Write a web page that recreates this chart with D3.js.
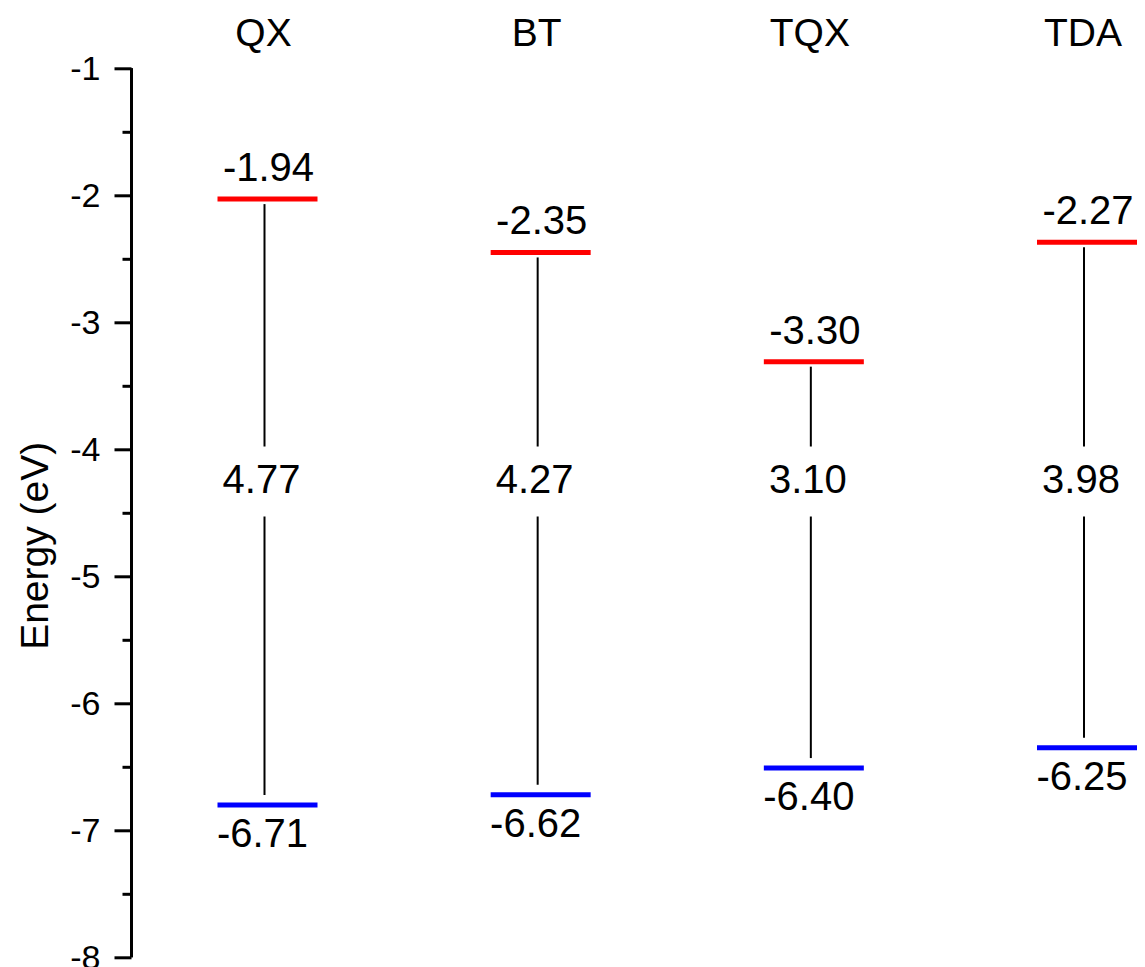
<!DOCTYPE html>
<html>
<head>
<meta charset="utf-8">
<script src="https://cdn.jsdelivr.net/npm/d3@7"></script>
<style>
	body { margin: 0; background: #fff; }
	svg { display: block; }
	text { font-family: "Liberation Sans", Arial, sans-serif; fill: #000; }
</style>
</head>
<body>
<svg id="chart" width="1145" height="967"></svg>
<script>
var categories = ["QX", "BT", "TQX", "TDA"];
var lumo = [-2.03, -2.45, -3.31, -2.37];
var homo = [-6.80, -6.72, -6.51, -6.35];
var lumoLabels = ["-1.94", "-2.35", "-3.30", "-2.27"];
var homoLabels = ["-6.71", "-6.62", "-6.40", "-6.25"];
var gapLabels = ["4.77", "4.27", "3.10", "3.98"];
var majorTicks = [-1, -2, -3, -4, -5, -6, -7, -8];

var svg = d3.select("#chart");

var y = d3.scaleLinear().domain([-1, -8]).range([68.3, 957.3]);
var x = d3.scalePoint().domain(categories).range([267.5, 1087]);

var levelW = 100;
var gapAt = -4.23;

// y axis: major ticks every 1, minor every 0.5
var minorTicks = d3.range(-1.5, -8, -1);
var axisMajor = d3.axisLeft(y).tickValues(majorTicks).tickSize(17).tickPadding(14)
	.tickFormat(function (d) { return String(d); });
var axisMinor = d3.axisLeft(y).tickValues(minorTicks).tickSize(9).tickFormat("");

var gAxis = svg.append("g").attr("transform", "translate(131.5,0)");
gAxis.call(axisMajor);
gAxis.append("g").call(axisMinor);
gAxis.selectAll("path.domain").attr("stroke", "#000").attr("stroke-width", 3);
gAxis.selectAll(".tick line").attr("stroke", "#000").attr("stroke-width", 3);
gAxis.selectAll(".tick text").attr("font-size", 34).attr("fill", "#000")
	.style("font-family", '"Liberation Sans", Arial, sans-serif');
// keep the domain flat at the ends (no outer ticks)
gAxis.selectAll("path.domain").attr("d", "M0," + y(-1) + "V" + y(-8));
gAxis.select("g").selectAll("path.domain").remove();

svg.append("text")
	.attr("transform", "translate(48," + y(-4.76) + ") rotate(-90)")
	.attr("text-anchor", "middle")
	.attr("font-size", 39)
	.text("Energy (eV)");

// category titles
svg.selectAll("text.title")
	.data(categories)
	.enter().append("text")
	.attr("class", "title")
	.attr("x", function (d) { return x(d) - 4; })
	.attr("y", 46)
	.attr("text-anchor", "middle")
	.attr("font-size", 39)
	.text(function (d) { return d; });

var groups = svg.selectAll("g.mol")
	.data(categories)
	.enter().append("g")
	.attr("class", "mol");

// connector above gap label
groups.append("line")
	.attr("x1", function (d) { return x(d) - 3; })
	.attr("x2", function (d) { return x(d) - 3; })
	.attr("y1", function (d, i) { return y(lumo[i]) + 5; })
	.attr("y2", y(gapAt) - 32)
	.attr("stroke", "#000")
	.attr("stroke-width", 2);

// connector below gap label
groups.append("line")
	.attr("x1", function (d) { return x(d) - 3; })
	.attr("x2", function (d) { return x(d) - 3; })
	.attr("y1", y(gapAt) + 38)
	.attr("y2", function (d, i) { return y(homo[i]) - 10; })
	.attr("stroke", "#000")
	.attr("stroke-width", 2);

// LUMO levels
groups.append("line")
	.attr("x1", function (d) { return x(d) - levelW / 2; })
	.attr("x2", function (d) { return x(d) + levelW / 2; })
	.attr("y1", function (d, i) { return y(lumo[i]); })
	.attr("y2", function (d, i) { return y(lumo[i]); })
	.attr("stroke", "#ff0000")
	.attr("stroke-width", 5);

// HOMO levels
groups.append("line")
	.attr("x1", function (d) { return x(d) - levelW / 2; })
	.attr("x2", function (d) { return x(d) + levelW / 2; })
	.attr("y1", function (d, i) { return y(homo[i]); })
	.attr("y2", function (d, i) { return y(homo[i]); })
	.attr("stroke", "#0000ff")
	.attr("stroke-width", 5);

groups.append("text")
	.attr("x", function (d) { return x(d) + 1; })
	.attr("y", function (d, i) { return y(lumo[i]) - 18; })
	.attr("text-anchor", "middle")
	.attr("font-size", 40)
	.text(function (d, i) { return lumoLabels[i]; });

groups.append("text")
	.attr("x", function (d) { return x(d) - 5; })
	.attr("y", function (d, i) { return y(homo[i]) + 42; })
	.attr("text-anchor", "middle")
	.attr("font-size", 40)
	.text(function (d, i) { return homoLabels[i]; });

groups.append("text")
	.attr("x", function (d) { return x(d) - 6; })
	.attr("y", y(gapAt) + 14.5)
	.attr("text-anchor", "middle")
	.attr("font-size", 40)
	.text(function (d, i) { return gapLabels[i]; });
</script>
</body>
</html>
